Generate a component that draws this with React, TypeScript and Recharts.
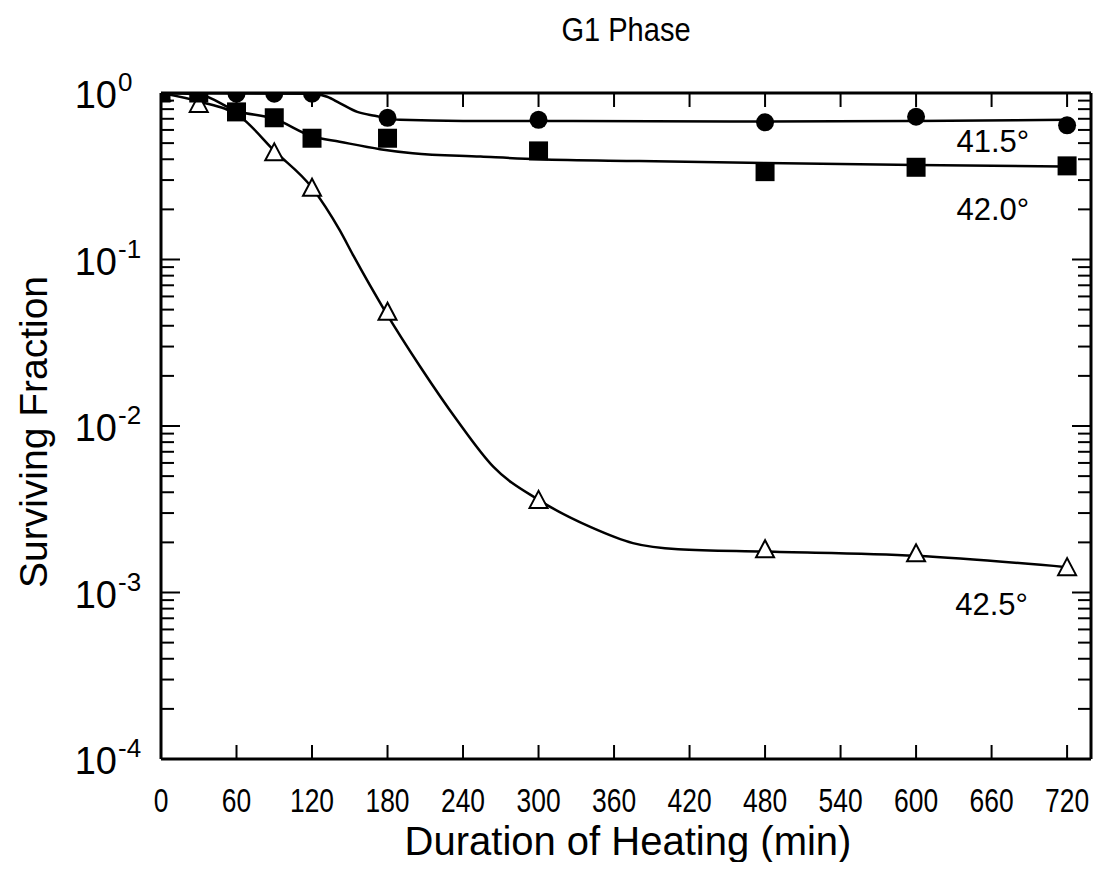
import React from 'react';
import { ComposedChart, XAxis, YAxis, Scatter, Line, Label, ReferenceDot } from 'recharts';

// measured points (time in min, surviving fraction)
const times = [0, 30, 60, 90, 120, 180, 300, 480, 600, 720];
const sf415 = [1.0, 1.0, 0.99, 0.99, 0.99, 0.71, 0.69, 0.667, 0.72, 0.64];
const sf420 = [1.0, 1.0, 0.77, 0.71, 0.535, 0.535, 0.449, 0.337, 0.358, 0.365];
const sf425 = [1.0, 0.86, null, 0.44, 0.27, 0.0486, 0.0036, 0.00182, 0.00172, 0.00142];

// hand-drawn fitted curves
const curve415T = [0, 120, 132, 142, 156, 170, 190, 240, 300, 480, 600, 720];
const curve415V = [1.0, 0.99, 0.95, 0.87, 0.77, 0.73, 0.69, 0.68, 0.68, 0.675, 0.68, 0.69];
const curve420T = [0, 30, 60, 90, 120, 142, 174, 200, 254, 300, 380, 480, 600, 720];
const curve420V = [1.0, 0.98, 0.78, 0.7, 0.55, 0.51, 0.46, 0.435, 0.415, 0.4, 0.39, 0.38, 0.37, 0.362];
const curve425T = [0, 30, 63, 90, 120, 142, 153, 178, 206, 235, 264, 300, 342, 375, 411, 480, 600, 720];
const curve425V = [1.0, 0.89, 0.72, 0.45, 0.27, 0.15, 0.105, 0.049, 0.0227, 0.0109, 0.0057, 0.0036, 0.00246, 0.00198, 0.00182, 0.00176, 0.00166, 0.00142];

const xTicks = [0, 60, 120, 180, 240, 300, 360, 420, 480, 540, 600, 660, 720];
const decades = [0.0001, 0.001, 0.01, 0.1, 1];
const minorSteps = [2, 3, 4, 5, 6, 7, 8, 9];

const tempLabels = ['41.5°', '42.0°', '42.5°'];
const tempLabelT = [661, 661, 660];
const tempLabelV = [0.515, 0.202, 0.000853];

const yTicks: number[] = [];
decades.forEach((d, i) => {
  yTicks.push(d);
  if (i < decades.length - 1) minorSteps.forEach((m) => yTicks.push(d * m));
});

const toRows = (t: number[], v: (number | null)[]) =>
  t.map((x, i) => ({ t: x, v: v[i] })).filter((r) => r.v !== null);

const pts415 = toRows(times, sf415);
const pts420 = toRows(times, sf420);
const pts425 = toRows(times, sf425);
const line415 = toRows(curve415T, curve415V);
const line420 = toRows(curve420T, curve420V);
const line425 = toRows(curve425T, curve425V);

const FONT = '"Liberation Sans", Arial, sans-serif';

const isMajor = (v: number) => Math.abs(Math.log10(v) - Math.round(Math.log10(v))) < 1e-6;

const LeftTick = (props: any) => {
  const { x, y, payload } = props;
  const v = payload.value;
  const major = isMajor(v);
  const e = Math.round(Math.log10(v));
  return (
    <g>
      <line x1={x} x2={x + (major ? 19 : 13)} y1={y} y2={y} stroke="#000" strokeWidth={2} />
      {major && (
        <>
          <text x={x - 44} y={y + 15} textAnchor="end" fontSize={38} fontFamily={FONT} fill="#000">10</text>
          <text x={x - 43} y={y - 2} textAnchor="start" fontSize={26} fontFamily={FONT} fill="#000">{e}</text>
        </>
      )}
    </g>
  );
};

const RightTick = (props: any) => {
  const { x, y, payload } = props;
  const major = isMajor(payload.value);
  return <line x1={x} x2={x - (major ? 19 : 13)} y1={y} y2={y} stroke="#000" strokeWidth={2} />;
};

const BottomTick = (props: any) => {
  const { x, y, payload } = props;
  return (
    <g>
      {payload.value > 0 && <line x1={x} x2={x} y1={y} y2={y - 14} stroke="#000" strokeWidth={2} />}
      <text
        transform={`translate(${x} ${y + 53}) scale(0.8 1)`}
        textAnchor="middle"
        fontSize={33}
        fontFamily={FONT}
        fill="#000"
      >
        {payload.value}
      </text>
    </g>
  );
};

const TopTick = (props: any) => {
  const { x, y, payload } = props;
  if (payload.value <= 0) return <g />;
  return <line x1={x} x2={x} y1={y} y2={y + 14} stroke="#000" strokeWidth={2} />;
};

const dotCircle = (p: any) => <circle cx={p.cx} cy={p.cy} r={9} fill="#000" />;
const dotSquare = (p: any) => <rect x={p.cx - 9.5} y={p.cy - 9.5} width={19} height={19} fill="#000" />;
const dotTriangle = (p: any) => (
  <polygon
    points={`${p.cx},${p.cy - 9} ${p.cx - 9},${p.cy + 8} ${p.cx + 9},${p.cy + 8}`}
    fill="#fff"
    stroke="#000"
    strokeWidth={2}
  />
);

export default function App() {
  return (
    <div style={{ width: 1089, height: 854, background: '#fff' }}>
      <ComposedChart width={1089} height={854} margin={{ top: 84, right: 5, bottom: 0, left: 0 }}>
        <XAxis
          dataKey="t"
          type="number"
          domain={[0, 739]}
          ticks={xTicks}
          interval={0}
          height={103}
          tickSize={0}
          tickMargin={0}
          tickLine={false}
          axisLine={{ stroke: '#000', strokeWidth: 3 }}
          tick={BottomTick}
          allowDataOverflow
        >
          <Label
            content={(p: any) => {
              const vb = p.viewBox;
              return (
                <text x={vb.x + vb.width / 2 + 2} y={847} textAnchor="middle" fontSize={40} fontFamily={FONT} fill="#000">
                  Duration of Heating (min)
                </text>
              );
            }}
          />
        </XAxis>
        <XAxis
          xAxisId="top"
          orientation="top"
          dataKey="t"
          type="number"
          domain={[0, 739]}
          ticks={xTicks}
          interval={0}
          height={1}
          tickSize={0}
          tickMargin={0}
          tickLine={false}
          axisLine={{ stroke: '#000', strokeWidth: 3 }}
          tick={TopTick}
          allowDataOverflow
        >
          <Label
            content={(p: any) => {
              const vb = p.viewBox;
              return (
                <text
                  transform={`translate(${vb.x + vb.width / 2} 33) scale(0.88 1)`}
                  textAnchor="middle"
                  fontSize={33}
                  fontFamily={FONT}
                  fill="#000"
                >
                  G1 Phase
                </text>
              );
            }}
          />
        </XAxis>
        <YAxis
          dataKey="v"
          scale="log"
          type="number"
          domain={[0.0001, 1]}
          ticks={yTicks}
          interval={0}
          width={153}
          tickSize={0}
          tickMargin={0}
          tickLine={false}
          axisLine={{ stroke: '#000', strokeWidth: 3 }}
          tick={LeftTick}
          allowDataOverflow
        >
          <Label
            content={(p: any) => {
              const vb = p.viewBox;
              const cx = 25;
              const cy = vb.y + vb.height / 2 + 6;
              return (
                <text
                  x={cx}
                  y={cy}
                  transform={`rotate(-90 ${cx} ${cy})`}
                  textAnchor="middle"
                  dominantBaseline="central"
                  fontSize={39}
                  fontFamily={FONT}
                  fill="#000"
                >
                  Surviving Fraction
                </text>
              );
            }}
          />
        </YAxis>
        <YAxis
          yAxisId="right"
          orientation="right"
          dataKey="v"
          scale="log"
          type="number"
          domain={[0.0001, 1]}
          ticks={yTicks}
          interval={0}
          width={1}
          tickSize={0}
          tickMargin={0}
          tickLine={false}
          axisLine={{ stroke: '#000', strokeWidth: 3 }}
          tick={RightTick}
          allowDataOverflow
        />

        {/* invisible series so the top / right frame axes are drawn */}
        <Line
          data={line415}
          xAxisId="top"
          yAxisId="right"
          dataKey="v"
          stroke="none"
          dot={false}
          activeDot={false}
          legendType="none"
          isAnimationActive={false}
        />

        <Line data={line415} dataKey="v" type="monotone" stroke="#000" strokeWidth={2.5} dot={false} isAnimationActive={false} />
        <Line data={line420} dataKey="v" type="monotone" stroke="#000" strokeWidth={2.5} dot={false} isAnimationActive={false} />
        <Line data={line425} dataKey="v" type="monotone" stroke="#000" strokeWidth={2.5} dot={false} isAnimationActive={false} />

        <Scatter data={pts425} dataKey="v" shape={dotTriangle} isAnimationActive={false} />
        <Scatter data={pts415} dataKey="v" shape={dotCircle} isAnimationActive={false} />
        <Scatter data={pts420} dataKey="v" shape={dotSquare} isAnimationActive={false} />

        {tempLabels.map((txt, i) => (
          <ReferenceDot
            key={txt}
            x={tempLabelT[i]}
            y={tempLabelV[i]}
            r={0}
            fill="none"
            stroke="none"
            label={{ value: txt, position: 'center', fontSize: 31, fontFamily: FONT, fill: '#000' }}
          />
        ))}
      </ComposedChart>
    </div>
  );
}
